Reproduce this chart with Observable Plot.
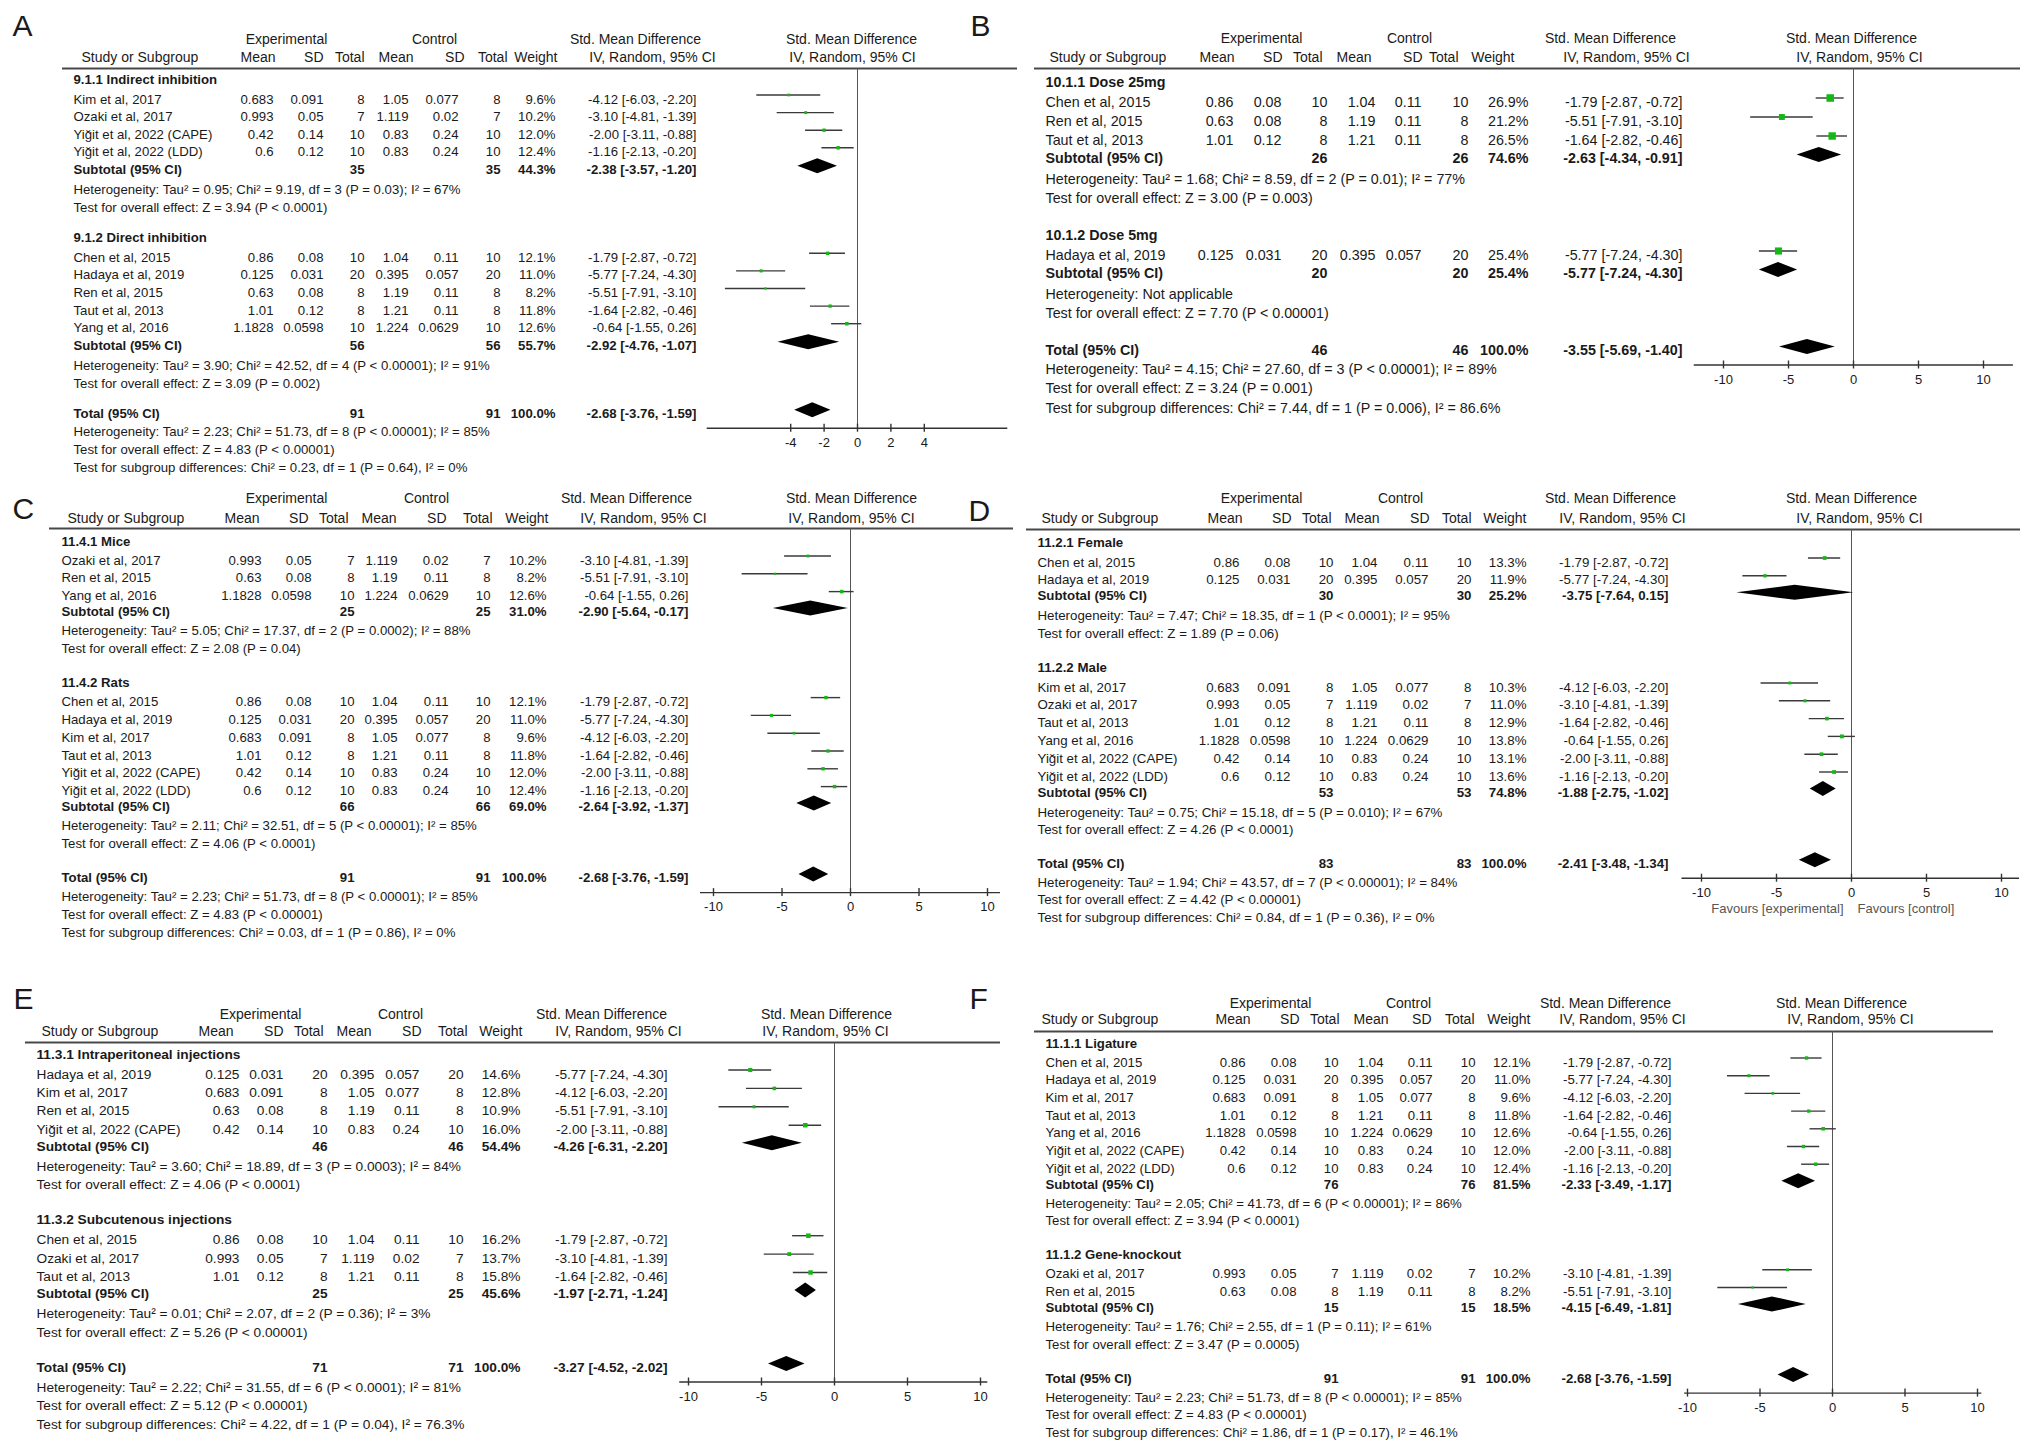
<!DOCTYPE html>
<html><head><meta charset="utf-8">
<script src="https://cdn.jsdelivr.net/npm/d3@7"></script>
<script src="https://cdn.jsdelivr.net/npm/@observablehq/plot@0.6"></script>
<style>
html,body{margin:0;padding:0;background:#fff;}
#fig{position:relative;width:2032px;height:1449px;overflow:hidden;background:#fff;}
</style></head><body><div id="fig"></div>
<script>
// ---------- study-level data (identical in every panel) ----------
const studyNames = ["Chen et al, 2015","Hadaya et al, 2019","Kim et al, 2017","Ozaki et al, 2017","Ren et al, 2015","Taut et al, 2013","Yang et al, 2016","Yiğit et al, 2022 (CAPE)","Yiğit et al, 2022 (LDD)"];
const expMean = ["0.86","0.125","0.683","0.993","0.63","1.01","1.1828","0.42","0.6"];
const expSD   = ["0.08","0.031","0.091","0.05","0.08","0.12","0.0598","0.14","0.12"];
const expN    = [10,20,8,7,8,8,10,10,10];
const ctlMean = ["1.04","0.395","1.05","1.119","1.19","1.21","1.224","0.83","0.83"];
const ctlSD   = ["0.11","0.057","0.077","0.02","0.11","0.11","0.0629","0.24","0.24"];
const ctlN    = [10,20,8,7,8,8,10,10,10];
const smd     = [-1.79,-5.77,-4.12,-3.10,-5.51,-1.64,-0.64,-2.00,-1.16];
const smdLo   = [-2.87,-7.24,-6.03,-4.81,-7.91,-2.82,-1.55,-3.11,-2.13];
const smdHi   = [-0.72,-4.30,-2.20,-1.39,-3.10,-0.46,0.26,-0.88,-0.20];
const headLabels = ["Mean","SD","Total","Mean","SD","Total","Weight"];

// ---------- panel A ----------
const groupsA = [
  {label:"9.1.1 Indirect inhibition", studies:["Kim et al, 2017","Ozaki et al, 2017","Yiğit et al, 2022 (CAPE)","Yiğit et al, 2022 (LDD)"], weights:[9.6,10.2,12.0,12.4], n:35, weight:44.3, est:-2.38, lo:-3.57, hi:-1.20,
   het:"Heterogeneity: Tau² = 0.95; Chi² = 9.19, df = 3 (P = 0.03); I² = 67%", test:"Test for overall effect: Z = 3.94 (P < 0.0001)"},
  {label:"9.1.2 Direct inhibition", studies:["Chen et al, 2015","Hadaya et al, 2019","Ren et al, 2015","Taut et al, 2013","Yang et al, 2016"], weights:[12.1,11.0,8.2,11.8,12.6], n:56, weight:55.7, est:-2.92, lo:-4.76, hi:-1.07,
   het:"Heterogeneity: Tau² = 3.90; Chi² = 42.52, df = 4 (P < 0.00001); I² = 91%", test:"Test for overall effect: Z = 3.09 (P = 0.002)"}
];
const totalA = {n:91, weight:100.0, est:-2.68, lo:-3.76, hi:-1.59,
  het:"Heterogeneity: Tau² = 2.23; Chi² = 51.73, df = 8 (P < 0.00001); I² = 85%", test:"Test for overall effect: Z = 4.83 (P < 0.00001)", sub:"Test for subgroup differences: Chi² = 0.23, df = 1 (P = 0.64), I² = 0%"};
const ticksA = [-4,-2,0,2,4];

// ---------- panel B ----------
const groupsB = [
  {label:"10.1.1 Dose 25mg", studies:["Chen et al, 2015","Ren et al, 2015","Taut et al, 2013"], weights:[26.9,21.2,26.5], n:26, weight:74.6, est:-2.63, lo:-4.34, hi:-0.91,
   het:"Heterogeneity: Tau² = 1.68; Chi² = 8.59, df = 2 (P = 0.01); I² = 77%", test:"Test for overall effect: Z = 3.00 (P = 0.003)"},
  {label:"10.1.2 Dose 5mg", studies:["Hadaya et al, 2019"], weights:[25.4], n:20, weight:25.4, est:-5.77, lo:-7.24, hi:-4.30,
   het:"Heterogeneity: Not applicable", test:"Test for overall effect: Z = 7.70 (P < 0.00001)"}
];
const totalB = {n:46, weight:100.0, est:-3.55, lo:-5.69, hi:-1.40,
  het:"Heterogeneity: Tau² = 4.15; Chi² = 27.60, df = 3 (P < 0.00001); I² = 89%", test:"Test for overall effect: Z = 3.24 (P = 0.001)", sub:"Test for subgroup differences: Chi² = 7.44, df = 1 (P = 0.006), I² = 86.6%"};
const ticksB = [-10,-5,0,5,10];

// ---------- panel C ----------
const groupsC = [
  {label:"11.4.1 Mice", studies:["Ozaki et al, 2017","Ren et al, 2015","Yang et al, 2016"], weights:[10.2,8.2,12.6], n:25, weight:31.0, est:-2.90, lo:-5.64, hi:-0.17,
   het:"Heterogeneity: Tau² = 5.05; Chi² = 17.37, df = 2 (P = 0.0002); I² = 88%", test:"Test for overall effect: Z = 2.08 (P = 0.04)"},
  {label:"11.4.2 Rats", studies:["Chen et al, 2015","Hadaya et al, 2019","Kim et al, 2017","Taut et al, 2013","Yiğit et al, 2022 (CAPE)","Yiğit et al, 2022 (LDD)"], weights:[12.1,11.0,9.6,11.8,12.0,12.4], n:66, weight:69.0, est:-2.64, lo:-3.92, hi:-1.37,
   het:"Heterogeneity: Tau² = 2.11; Chi² = 32.51, df = 5 (P < 0.00001); I² = 85%", test:"Test for overall effect: Z = 4.06 (P < 0.0001)"}
];
const totalC = {n:91, weight:100.0, est:-2.68, lo:-3.76, hi:-1.59,
  het:"Heterogeneity: Tau² = 2.23; Chi² = 51.73, df = 8 (P < 0.00001); I² = 85%", test:"Test for overall effect: Z = 4.83 (P < 0.00001)", sub:"Test for subgroup differences: Chi² = 0.03, df = 1 (P = 0.86), I² = 0%"};
const ticksC = [-10,-5,0,5,10];

// ---------- panel D ----------
const groupsD = [
  {label:"11.2.1 Female", studies:["Chen et al, 2015","Hadaya et al, 2019"], weights:[13.3,11.9], n:30, weight:25.2, est:-3.75, lo:-7.64, hi:0.15,
   het:"Heterogeneity: Tau² = 7.47; Chi² = 18.35, df = 1 (P < 0.0001); I² = 95%", test:"Test for overall effect: Z = 1.89 (P = 0.06)"},
  {label:"11.2.2 Male", studies:["Kim et al, 2017","Ozaki et al, 2017","Taut et al, 2013","Yang et al, 2016","Yiğit et al, 2022 (CAPE)","Yiğit et al, 2022 (LDD)"], weights:[10.3,11.0,12.9,13.8,13.1,13.6], n:53, weight:74.8, est:-1.88, lo:-2.75, hi:-1.02,
   het:"Heterogeneity: Tau² = 0.75; Chi² = 15.18, df = 5 (P = 0.010); I² = 67%", test:"Test for overall effect: Z = 4.26 (P < 0.0001)"}
];
const totalD = {n:83, weight:100.0, est:-2.41, lo:-3.48, hi:-1.34,
  het:"Heterogeneity: Tau² = 1.94; Chi² = 43.57, df = 7 (P < 0.00001); I² = 84%", test:"Test for overall effect: Z = 4.42 (P < 0.00001)", sub:"Test for subgroup differences: Chi² = 0.84, df = 1 (P = 0.36), I² = 0%"};
const ticksD = [-10,-5,0,5,10];
const favoursLabels = ["Favours [experimental]","Favours [control]"];

// ---------- panel E ----------
const groupsE = [
  {label:"11.3.1 Intraperitoneal injections", studies:["Hadaya et al, 2019","Kim et al, 2017","Ren et al, 2015","Yiğit et al, 2022 (CAPE)"], weights:[14.6,12.8,10.9,16.0], n:46, weight:54.4, est:-4.26, lo:-6.31, hi:-2.20,
   het:"Heterogeneity: Tau² = 3.60; Chi² = 18.89, df = 3 (P = 0.0003); I² = 84%", test:"Test for overall effect: Z = 4.06 (P < 0.0001)"},
  {label:"11.3.2 Subcutenous injections", studies:["Chen et al, 2015","Ozaki et al, 2017","Taut et al, 2013"], weights:[16.2,13.7,15.8], n:25, weight:45.6, est:-1.97, lo:-2.71, hi:-1.24,
   het:"Heterogeneity: Tau² = 0.01; Chi² = 2.07, df = 2 (P = 0.36); I² = 3%", test:"Test for overall effect: Z = 5.26 (P < 0.00001)"}
];
const totalE = {n:71, weight:100.0, est:-3.27, lo:-4.52, hi:-2.02,
  het:"Heterogeneity: Tau² = 2.22; Chi² = 31.55, df = 6 (P < 0.0001); I² = 81%", test:"Test for overall effect: Z = 5.12 (P < 0.00001)", sub:"Test for subgroup differences: Chi² = 4.22, df = 1 (P = 0.04), I² = 76.3%"};
const ticksE = [-10,-5,0,5,10];

// ---------- panel F ----------
const groupsF = [
  {label:"11.1.1 Ligature", studies:["Chen et al, 2015","Hadaya et al, 2019","Kim et al, 2017","Taut et al, 2013","Yang et al, 2016","Yiğit et al, 2022 (CAPE)","Yiğit et al, 2022 (LDD)"], weights:[12.1,11.0,9.6,11.8,12.6,12.0,12.4], n:76, weight:81.5, est:-2.33, lo:-3.49, hi:-1.17,
   het:"Heterogeneity: Tau² = 2.05; Chi² = 41.73, df = 6 (P < 0.00001); I² = 86%", test:"Test for overall effect: Z = 3.94 (P < 0.0001)"},
  {label:"11.1.2 Gene-knockout", studies:["Ozaki et al, 2017","Ren et al, 2015"], weights:[10.2,8.2], n:15, weight:18.5, est:-4.15, lo:-6.49, hi:-1.81,
   het:"Heterogeneity: Tau² = 1.76; Chi² = 2.55, df = 1 (P = 0.11); I² = 61%", test:"Test for overall effect: Z = 3.47 (P = 0.0005)"}
];
const totalF = {n:91, weight:100.0, est:-2.68, lo:-3.76, hi:-1.59,
  het:"Heterogeneity: Tau² = 2.23; Chi² = 51.73, df = 8 (P < 0.00001); I² = 85%", test:"Test for overall effect: Z = 4.83 (P < 0.00001)", sub:"Test for subgroup differences: Chi² = 1.86, df = 1 (P = 0.17), I² = 46.1%"};
const ticksF = [-10,-5,0,5,10];

// ---------- layout (page pixels) ----------
const layoutA = {top:0,bottom:478,letter:[12,35],font:13.2,headFont:14,h1:43,h2:61,line:68,lineX:[62,1017],first:83,s:17.6,hs:20,ss:17.5,sh:20.5,ht:18,tn:29.5,th:18,nameX:73,headNameX:81,
  cols:[273,323,364,408,458,500,555,696],headCols:[275,323,364,413,464,507,557],expX:286,ctlX:434,smdHead:[635,652],forestHead:[851,852],zero:857,ppu:16.7,axis:[-9,9]};
const layoutB = {top:0,bottom:420,letter:[970,35],font:14.3,headFont:14,h1:42,h2:61,line:68,lineX:[1034,2020],first:86,s:19,hs:20,ss:18,sh:21,ht:19.5,tn:36.5,th:19,nameX:1045,headNameX:1049,
  cols:[1233,1281,1327,1375,1421,1468,1528,1682],headCols:[1234,1282,1322,1371,1422,1458,1514],expX:1261,ctlX:1409,smdHead:[1610,1626],forestHead:[1851,1859],zero:1853,ppu:13.0,axis:[-12.25,12.3]};
const layoutC = {top:471,bottom:944,letter:[12,518],font:13.2,headFont:14,h1:502,h2:522,line:528,lineX:[49,1013],first:545,s:17.8,hs:19,ss:16,sh:19,ht:18,tn:34,th:19,nameX:61,headNameX:67,
  cols:[261,311,354,397,448,490,546,688],headCols:[259,308,348,396,446,492,548],expX:286,ctlX:426,smdHead:[626,643],forestHead:[851,851],zero:850,ppu:13.7,axis:[-10.95,10.95]};
const layoutD = {top:471,bottom:930,letter:[968,520],font:13.3,headFont:14,h1:502,h2:522,line:529,lineX:[1026,2020],first:546,s:17.8,hs:20,ss:16,sh:20,ht:17.7,tn:33.5,th:19,nameX:1037,headNameX:1041,
  cols:[1239,1290,1333,1377,1428,1471,1526,1668],headCols:[1242,1291,1331,1379,1429,1471,1526],expX:1261,ctlX:1400,smdHead:[1610,1622],forestHead:[1851,1859],zero:1851,ppu:15.0,axis:[-11.3,11.2],favours:[1843,1857,912]};
const layoutE = {top:972,bottom:1440,letter:[13,1008],font:13.7,headFont:14,h1:1018,h2:1035,line:1042,lineX:[25,1000],first:1058,s:18.4,hs:20,ss:17,sh:20,ht:18.5,tn:35,th:20,nameX:36,headNameX:41,
  cols:[239,283,327,374,419,463,520,667],headCols:[233,283,323,371,421,467,522],expX:260,ctlX:400,smdHead:[601,618],forestHead:[826,825],zero:834,ppu:14.6,axis:[-10.6,10.5]};
const layoutF = {top:972,bottom:1446,letter:[969,1008],font:13.2,headFont:14,h1:1007,h2:1023,line:1031,lineX:[1034,1993],first:1047,s:17.7,hs:19,ss:16,sh:19,ht:17.6,tn:34,th:19,nameX:1045,headNameX:1041,
  cols:[1245,1296,1338,1383,1432,1475,1530,1671],headCols:[1250,1299,1339,1388,1431,1474,1530],expX:1270,ctlX:1408,smdHead:[1605,1622],forestHead:[1841,1850],zero:1832,ppu:14.5,axis:[-10.2,10.3]};

const FONT = "'Liberation Sans', Arial, Helvetica, sans-serif";
const INK = "#1a1a1a", RULE = "#484848", GREEN = "#14b814";
const W = 2032;

function buildRows(L, groups, total) {
  const rows = [];
  let y = L.first;
  groups.forEach((g, gi) => {
    if (gi) y += L.tn;
    rows.push({kind:"group", y, label:g.label});
    g.studies.forEach((name, i) => {
      y += i ? L.s : L.hs;
      const k = studyNames.indexOf(name);
      rows.push({kind:"study", y, label:name, em:expMean[k], esd:expSD[k], en:expN[k], cm:ctlMean[k], csd:ctlSD[k], cn:ctlN[k], w:g.weights[i], est:smd[k], lo:smdLo[k], hi:smdHi[k]});
    });
    y += L.ss;
    rows.push({kind:"sub", y, label:"Subtotal (95% CI)", en:g.n, cn:g.n, w:g.weight, est:g.est, lo:g.lo, hi:g.hi});
    y += L.sh; rows.push({kind:"note", y, label:g.het});
    y += L.ht; rows.push({kind:"note", y, label:g.test});
  });
  y += L.tn;
  rows.push({kind:"total", y, label:"Total (95% CI)", en:total.n, cn:total.n, w:total.weight, est:total.est, lo:total.lo, hi:total.hi});
  const axisY = y + 10.5;
  y += L.th; rows.push({kind:"note", y, label:total.het});
  y += L.ht; rows.push({kind:"note", y, label:total.test});
  y += L.ht; rows.push({kind:"note", y, label:total.sub});
  return {rows, axisY};
}

const ciText = r => `${r.est.toFixed(2)} [${r.lo.toFixed(2)}, ${r.hi.toFixed(2)}]`;

function drawPanel(id, groups, total, ticks, L) {
  const {rows, axisY} = buildRows(L, groups, total);
  const Hh = L.bottom - L.top;
  const marks = [];
  const fixed = (s, x, y, anchor, size, extra = {}) => Plot.text([s], {text: d => d, frameAnchor: "top-left", dx: x, dy: y - L.top, textAnchor: anchor, lineAnchor: "bottom", fontSize: size, fill: INK, ...extra});
  const txt = (data, o) => Plot.text(data, {y: "y", frameAnchor: "left", lineAnchor: "bottom", fill: INK, fontSize: L.font, ...o});

  // panel letter and headers
  marks.push(fixed(id, L.letter[0], L.letter[1], "start", 30));
  marks.push(fixed("Experimental", L.expX, L.h1, "middle", L.headFont));
  marks.push(fixed("Control", L.ctlX, L.h1, "middle", L.headFont));
  marks.push(fixed("Std. Mean Difference", L.smdHead[0], L.h1, "middle", L.headFont));
  marks.push(fixed("Std. Mean Difference", L.forestHead[0], L.h1, "middle", L.headFont));
  marks.push(fixed("Study or Subgroup", L.headNameX, L.h2, "start", L.headFont));
  headLabels.forEach((s, i) => marks.push(fixed(s, L.headCols[i], L.h2, "end", L.headFont)));
  marks.push(fixed("IV, Random, 95% CI", L.smdHead[1], L.h2, "middle", L.headFont));
  marks.push(fixed("IV, Random, 95% CI", L.forestHead[1], L.h2, "middle", L.headFont));
  marks.push(Plot.ruleY([L.line], {y: d => d, insetLeft: L.lineX[0], insetRight: W - L.lineX[1], stroke: RULE, strokeWidth: 1.8}));

  // table body
  const isBold = r => r.kind === "group" || r.kind === "sub" || r.kind === "total";
  marks.push(txt(rows.filter(r => !isBold(r)), {text: "label", dx: L.nameX, textAnchor: "start"}));
  marks.push(txt(rows.filter(isBold), {text: "label", dx: L.nameX, textAnchor: "start", fontWeight: "bold"}));
  const getters = [r => r.em, r => r.esd, r => r.en, r => r.cm, r => r.csd, r => r.cn,
    r => r.w == null ? null : r.w.toFixed(1) + "%", r => r.est == null ? null : ciText(r)];
  getters.forEach((get, i) => {
    for (const bold of [false, true]) {
      const data = rows.filter(r => isBold(r) === bold && get(r) != null);
      if (data.length) marks.push(txt(data, {text: get, dx: L.cols[i], textAnchor: "end", fontWeight: bold ? "bold" : "normal"}));
    }
  });

  // forest plot
  const studyRows = rows.filter(r => r.kind === "study");
  const diaRows = rows.filter(r => r.kind === "sub" || r.kind === "total");
  const diamonds = diaRows.flatMap((r, k) => {
    const c = r.y - 7.5;
    return [{k, y: c - 7.5, x1: r.est, x2: r.est}, {k, y: c, x1: r.lo, x2: r.hi}, {k, y: c + 7.5, x1: r.est, x2: r.est}];
  });
  marks.push(Plot.ruleX([0], {x: d => d, y1: () => L.line, y2: () => axisY, stroke: "#555", strokeWidth: 1}));
  marks.push(Plot.ruleY(studyRows, {y: r => r.y - 8.5, x1: "lo", x2: "hi", stroke: "#3a3a3a", strokeWidth: 1.4}));
  marks.push(Plot.dot(studyRows, {x: "est", y: r => r.y - 8.5, r: "w", symbol: "square", fill: GREEN}));
  marks.push(Plot.areaX(diamonds, {y: "y", x1: "x1", x2: "x2", z: "k", fill: "#000", curve: "linear"}));
  marks.push(Plot.ruleY([axisY], {y: d => d, x1: () => L.axis[0], x2: () => L.axis[1], stroke: "#333", strokeWidth: 1.4}));
  marks.push(Plot.ruleX(ticks, {x: d => d, y1: () => axisY, y2: () => axisY, insetTop: -4, insetBottom: -4, stroke: "#333", strokeWidth: 1.4}));
  marks.push(Plot.text(ticks, {x: d => d, y: () => axisY + 18.5, text: d => String(d), lineAnchor: "bottom", fontSize: 13, fill: INK}));
  if (L.favours) {
    marks.push(fixed(favoursLabels[0], L.favours[0], L.favours[2], "end", 13, {fill: "#555"}));
    marks.push(fixed(favoursLabels[1], L.favours[1], L.favours[2], "start", 13, {fill: "#555"}));
  }

  const chart = Plot.plot({
    width: W, height: Hh, margin: 0,
    x: {domain: [-L.zero / L.ppu, (W - L.zero) / L.ppu], range: [0, W], axis: null},
    y: {domain: [L.top, L.bottom], range: [0, Hh], axis: null},
    r: {type: "linear", domain: [0, 30], range: [0, 4.74]},
    style: {fontFamily: FONT, background: "transparent", overflow: "hidden", position: "absolute", left: "0px", top: L.top + "px"},
    marks
  });
  document.getElementById("fig").appendChild(chart);
}

drawPanel("A", groupsA, totalA, ticksA, layoutA);
drawPanel("B", groupsB, totalB, ticksB, layoutB);
drawPanel("C", groupsC, totalC, ticksC, layoutC);
drawPanel("D", groupsD, totalD, ticksD, layoutD);
drawPanel("E", groupsE, totalE, ticksE, layoutE);
drawPanel("F", groupsF, totalF, ticksF, layoutF);
</script></body></html>
